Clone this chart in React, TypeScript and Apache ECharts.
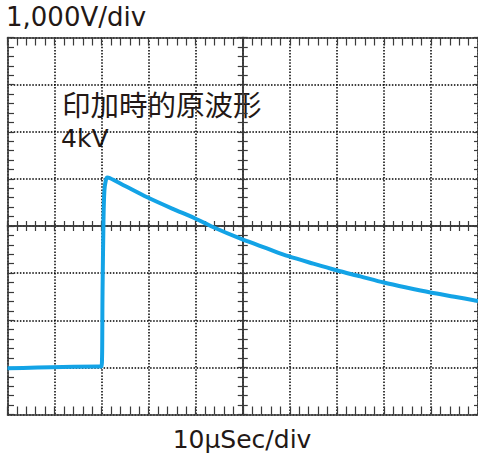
import React, { useEffect, useRef } from "react";
import * as echarts from "echarts";

// time in µs (10 µs/div), voltage in kV (1,000 V/div)
const timeUs = [0, 19.6, 20.0, 20.2, 20.4, 20.6, 20.9, 21.2, 21.7, 25, 29.7, 35, 39.9, 43.4, 49.8, 55, 59.7, 65, 69.9, 75, 80.0, 85, 89.9, 95, 100];
const voltageKv = [-0.02, 0.02, 0.02, 1.6, 3.12, 3.76, 3.97, 4.03, 4.02, 3.85, 3.61, 3.37, 3.16, 2.99, 2.72, 2.53, 2.36, 2.2, 2.06, 1.93, 1.8, 1.69, 1.59, 1.5, 1.41];

const yTitle = "1,000V/div";
const xTitle = "10\u03bcSec/div";
const noteLine1 = "印加時的原波形";
const noteLine2 = "4kV";

const TEXT = "#231815";
const BORDER = "#3a3a3a";
const LATIN = "'DejaVu Sans', sans-serif";
const CJK = "'Noto Sans CJK JP', sans-serif";

export default function App() {
  const ref = useRef<HTMLDivElement>(null);
  useEffect(() => {
    const chart = echarts.init(ref.current!, null, { renderer: "svg" });
    const gridPos = { left: 7.5, top: 37.5, width: 473, height: 377 };
    const dotted = { color: "#000", width: 1.5, type: [1.5, 1.6] as any };
    const hidden = { show: false };
    const centerAxisX = (gi: number, inside: boolean) => ({
      type: "value", gridIndex: gi, min: -50, max: 50, interval: 10,
      axisLine: { show: true, onZero: true, lineStyle: { color: BORDER, width: 1.5 } },
      axisTick: { show: true, inside, length: 5, lineStyle: { color: BORDER, width: 1.2 } },
      minorTick: { show: true, splitNumber: 5, length: 5, lineStyle: { color: BORDER, width: 1.2 } },
      axisLabel: hidden, splitLine: hidden,
    });
    const centerAxisY = (gi: number, inside: boolean) => ({
      type: "value", gridIndex: gi, min: -4, max: 4, interval: 1,
      axisLine: { show: true, onZero: true, lineStyle: { color: BORDER, width: 1.5 } },
      axisTick: { show: true, inside, length: 5, lineStyle: { color: BORDER, width: 1.2 } },
      minorTick: { show: true, splitNumber: 5, length: 5, lineStyle: { color: BORDER, width: 1.2 } },
      axisLabel: hidden, splitLine: hidden,
    });
    const edgeX = (position: string, showLine: boolean, split: boolean) => ({
      type: "value", gridIndex: 0, position, min: 0, max: 100, interval: 10,
      axisLine: { show: showLine, onZero: false, lineStyle: { color: BORDER, width: 1.6 } },
      axisTick: { show: true, inside: true, length: 8, lineStyle: { color: BORDER, width: 1.2 } },
      minorTick: { show: true, splitNumber: 5, length: 8, lineStyle: { color: BORDER, width: 1.2 } },
      axisLabel: hidden,
      splitLine: split ? { show: true, lineStyle: dotted } : hidden,
    });
    const edgeY = (position: string, showLine: boolean, split: boolean, len: number) => ({
      type: "value", gridIndex: 0, position, min: -1, max: 7, interval: 1,
      axisLine: { show: showLine, onZero: false, lineStyle: { color: BORDER, width: 1.6 } },
      axisTick: { show: true, inside: true, length: len, lineStyle: { color: BORDER, width: 1.2 } },
      minorTick: { show: true, splitNumber: 5, length: len, lineStyle: { color: BORDER, width: 1.2 } },
      axisLabel: hidden,
      splitLine: split ? { show: true, lineStyle: dotted } : hidden,
    });
    chart.setOption({
      animation: false,
      backgroundColor: "#fff",
      grid: [
        { ...gridPos, containLabel: false },
        { ...gridPos, containLabel: false },
        { ...gridPos, containLabel: false },
      ],
      xAxis: [
        edgeX("bottom", true, true),
        edgeX("top", true, false),
        centerAxisX(1, true),
        centerAxisX(2, false),
      ],
      yAxis: [
        edgeY("left", true, true, 6.5),
        edgeY("right", true, false, 4),
        centerAxisY(1, true),
        centerAxisY(2, false),
      ],
      series: [
        {
          type: "line",
          xAxisIndex: 0,
          yAxisIndex: 0,
          data: timeUs.map((t, i) => [t, voltageKv[i]]),
          showSymbol: false,
          smooth: 0.3,
          lineStyle: { color: "#13a3e6", width: 4 },
          z: 10,
        },
      ],
      graphic: [
        { type: "text", x: 6, y: 17, style: { text: yTitle, font: `26px ${LATIN}`, fill: TEXT, verticalAlign: "middle" } },
        { type: "text", x: 242, y: 439, style: { text: xTitle, font: `25px ${LATIN}`, fill: TEXT, align: "center", verticalAlign: "middle" } },
        { type: "text", x: 62, y: 103.5, style: { text: noteLine1, font: `28.5px ${CJK}`, fill: TEXT, verticalAlign: "middle" } },
        { type: "text", x: 61, y: 138, style: { text: noteLine2, font: `25px ${LATIN}`, fill: TEXT, verticalAlign: "middle" } },
      ],
    });
    return () => chart.dispose();
  }, []);
  return <div ref={ref} style={{ width: 478, height: 455, position: "fixed", left: 0, top: 0 }} />;
}
